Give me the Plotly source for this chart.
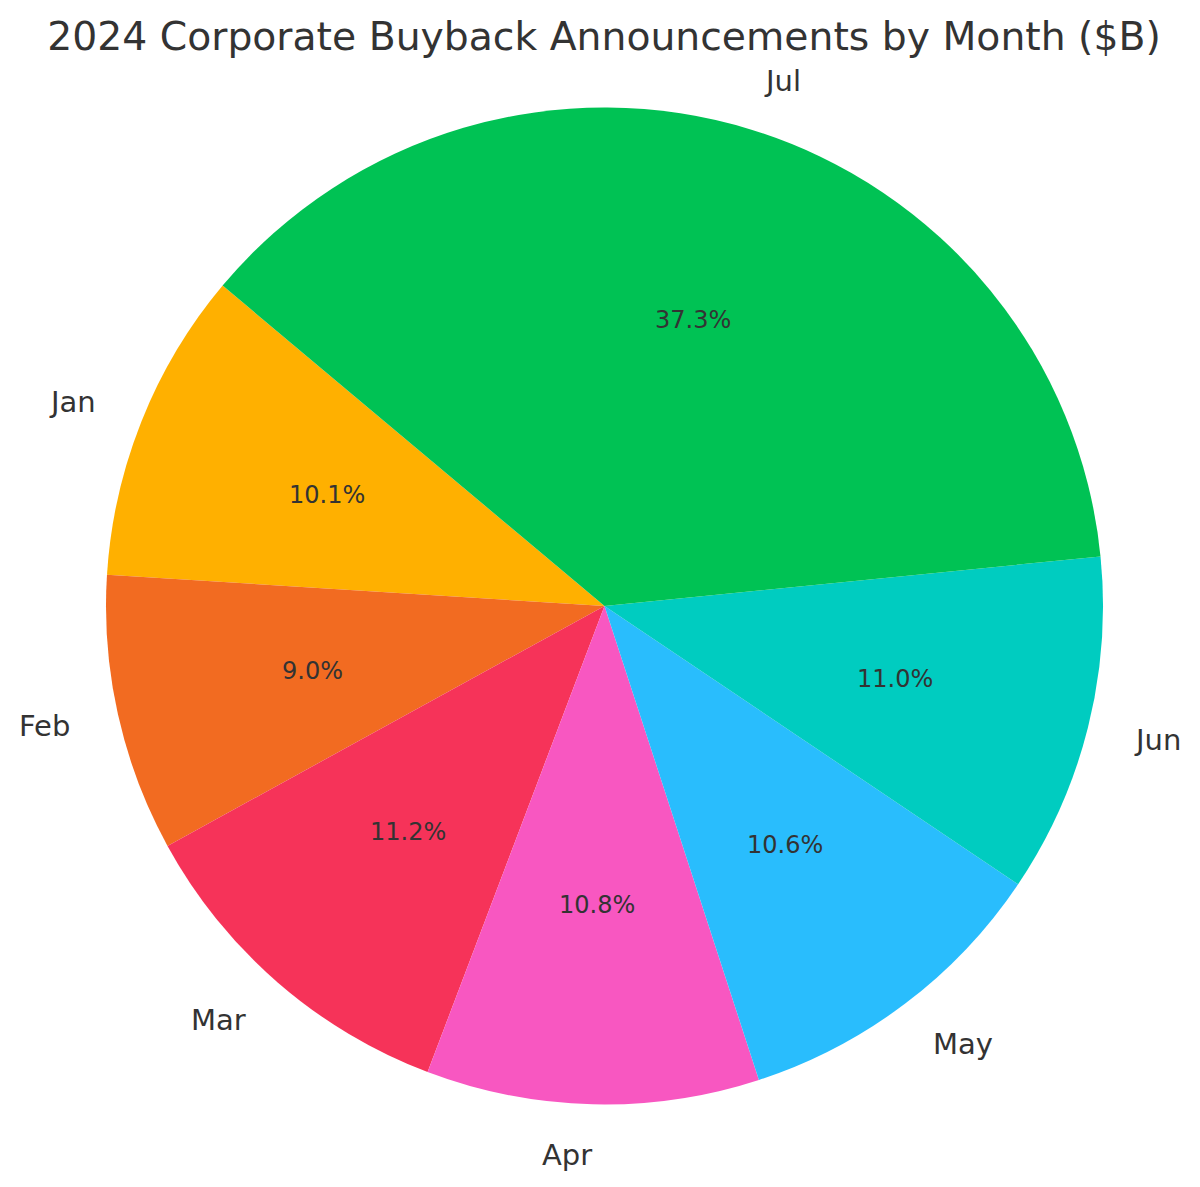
import math
import plotly.graph_objects as go

# --- Data ---
months = ["Jan", "Feb", "Mar", "Apr", "May", "Jun", "Jul"]
buybacks_bn = [90, 80, 100, 96, 94, 98, 332]  # $B
colors = ["#FFB000", "#F26B21", "#F63359", "#F857C1", "#29BDFD", "#00CCC0", "#00C254"]

START_ANGLE = 140.0   # degrees, counterclockwise from 3 o'clock (first slice start)
LABEL_DIST = 1.1
PCT_DIST = 0.6
TEXT_COLOR = "#333333"
FONT = "DejaVu Sans"

# page body has an 8px margin, so the figure is a bit smaller than the window
W, H = 1192, 1179
margin = dict(l=98, r=97, t=99, b=82)

total = sum(buybacks_bn)
# plotly ccw pies put the END of the first slice at `rotation`, so shift by its span
first_span = 360.0 * buybacks_bn[0] / total
rotation = 90 - START_ANGLE - first_span

fig = go.Figure(go.Pie(
    labels=months, values=buybacks_bn, sort=False,
    direction="counterclockwise", rotation=rotation,
    marker=dict(colors=colors, line=dict(width=0)),
    textinfo="none", hoverinfo="label+value+percent",
    showlegend=False,
))

# labels outside and percentages inside, placed like matplotlib does
annotations = []
angle = START_ANGLE
for name, val in zip(months, buybacks_bn):
    span = 360.0 * val / total
    mid = math.radians(angle + span / 2)
    c, s = math.cos(mid), math.sin(mid)
    annotations.append(dict(
        x=0.5 + 0.5 * LABEL_DIST * c, y=0.5 + 0.5 * LABEL_DIST * s,
        xref="paper", yref="paper", text=name, showarrow=False,
        xanchor="left" if c > 0 else "right", yanchor="middle",
        xshift=-4 if c > 0 else 3,  # annotation box padding
        font=dict(family=FONT, size=29, color=TEXT_COLOR),
    ))
    annotations.append(dict(
        x=0.5 + 0.5 * PCT_DIST * c, y=0.5 + 0.5 * PCT_DIST * s,
        xref="paper", yref="paper", text=f"{100 * val / total:.1f}%", showarrow=False,
        xanchor="center", yanchor="middle",
        font=dict(family=FONT, size=24, color=TEXT_COLOR),
    ))
    angle += span

fig.update_layout(
    width=W, height=H, margin=margin,
    paper_bgcolor="white", plot_bgcolor="white",
    title=dict(text="2024 Corporate Buyback Announcements by Month ($B)",
               x=0.5, xanchor="center", y=1 - 28 / H, yanchor="middle",
               font=dict(family=FONT, size=39.3, color=TEXT_COLOR)),
    annotations=annotations,
)

fig.write_html("out.html")
